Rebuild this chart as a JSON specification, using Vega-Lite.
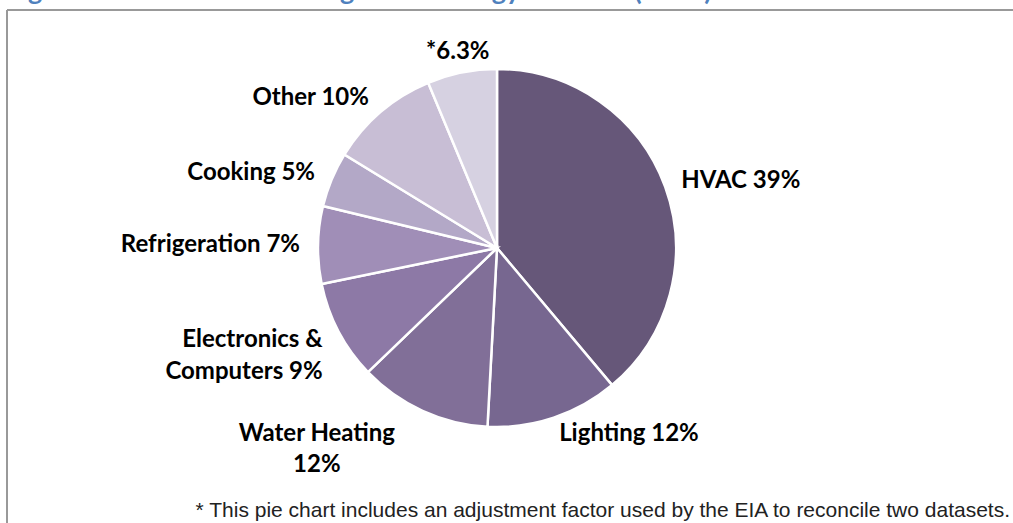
{
  "$schema": "https://vega.github.io/schema/vega-lite/v6.json",
  "autosize": {"type": "none"},
  "padding": {"left": 7, "top": 10, "right": 26, "bottom": 37},
  "width": 980,
  "height": 476,
  "background": "white",
  "config": {"view": {"stroke": null}},
  "title": {
    "text": "Figure 6: Residential Buildings Total Energy End-Use (2006)",
    "anchor": "start",
    "font": "Lato",
    "fontSize": 27,
    "fontWeight": "bold",
    "color": "#4F81BD",
    "offset": 3
  },
  "data": {
    "values": [
      {"idx": 1, "category": "HVAC", "value": 39, "label": "HVAC 39%"},
      {"idx": 2, "category": "Lighting", "value": 12, "label": "Lighting 12%"},
      {"idx": 3, "category": "Water Heating", "value": 12, "label": "Water Heating\n12%"},
      {"idx": 4, "category": "Electronics & Computers", "value": 9, "label": "Electronics &\nComputers 9%"},
      {"idx": 5, "category": "Refrigeration", "value": 7, "label": "Refrigeration 7%"},
      {"idx": 6, "category": "Cooking", "value": 5, "label": "Cooking 5%"},
      {"idx": 7, "category": "Other", "value": 10, "label": "Other 10%"},
      {"idx": 8, "category": "Adjustment", "value": 6.3, "label": "*6.3%"}
    ]
  },
  "layer": [
    {
      "mark": {"type": "arc", "outerRadius": 179, "stroke": "white", "strokeWidth": 2.5},
      "encoding": {
        "theta": {"field": "value", "type": "quantitative", "stack": true},
        "order": {"field": "idx", "type": "quantitative"},
        "color": {
          "field": "category",
          "type": "nominal",
          "scale": {
            "domain": ["HVAC", "Lighting", "Water Heating", "Electronics & Computers", "Refrigeration", "Cooking", "Other", "Adjustment"],
            "range": ["#665779", "#776790", "#816F98", "#8D79A6", "#A08EB7", "#B3A8C7", "#C8BED5", "#D6D1E1"]
          },
          "legend": null
        }
      }
    },
    {
      "mark": {"type": "text", "radius": 196, "align": "left", "baseline": "middle", "font": "Lato", "fontSize": 24, "fontWeight": "bold", "color": "#000000", "lineBreak": "\n"},
      "encoding": {
        "theta": {"field": "value", "type": "quantitative", "stack": true},
        "order": {"field": "idx", "type": "quantitative"},
        "text": {"condition": {"test": "indexof(['HVAC','Lighting'], datum.category) >= 0", "field": "label"}, "value": ""}
      }
    },
    {
      "mark": {"type": "text", "radius": 197, "align": "right", "baseline": "middle", "font": "Lato", "fontSize": 24, "fontWeight": "bold", "color": "#000000", "lineBreak": "\n", "lineHeight": 32},
      "encoding": {
        "theta": {"field": "value", "type": "quantitative", "stack": true},
        "order": {"field": "idx", "type": "quantitative"},
        "text": {"condition": {"test": "indexof(['Electronics & Computers','Refrigeration','Cooking','Other'], datum.category) >= 0", "field": "label"}, "value": ""}
      }
    },
    {
      "mark": {"type": "text", "radius": 200, "align": "center", "baseline": "middle", "font": "Lato", "fontSize": 24, "fontWeight": "bold", "color": "#000000"},
      "encoding": {
        "theta": {"field": "value", "type": "quantitative", "stack": true},
        "order": {"field": "idx", "type": "quantitative"},
        "text": {"condition": {"test": "datum.category == 'Adjustment'", "field": "label"}, "value": ""}
      }
    },
    {
      "mark": {"type": "text", "radius": 195, "align": "center", "baseline": "middle", "font": "Lato", "fontSize": 24, "fontWeight": "bold", "color": "#000000", "lineBreak": "\n", "lineHeight": 31, "dx": -99, "dy": 9},
      "encoding": {
        "theta": {"field": "value", "type": "quantitative", "stack": true},
        "order": {"field": "idx", "type": "quantitative"},
        "text": {"condition": {"test": "datum.category == 'Water Heating'", "field": "label"}, "value": ""}
      }
    },
    {
      "data": {"values": [{}]},
      "mark": {"type": "rule", "color": "#999999", "strokeWidth": 2},
      "encoding": {
        "x": {"datum": 0, "type": "quantitative", "scale": {"domain": [0, 1], "nice": false}, "axis": null},
        "y": {"datum": 1, "type": "quantitative", "scale": {"domain": [0, 1], "nice": false}, "axis": null},
        "y2": {"datum": -0.09}
      }
    },
    {
      "data": {"values": [{}]},
      "mark": {"type": "rule", "color": "#999999", "strokeWidth": 2},
      "encoding": {
        "x": {"datum": 0, "type": "quantitative"},
        "x2": {"datum": 1.04},
        "y": {"datum": 1, "type": "quantitative"}
      }
    },
    {
      "data": {"values": [{}]},
      "mark": {"type": "text", "align": "right", "baseline": "middle", "font": "Liberation Sans", "fontSize": 21, "color": "#222222", "dx": 23, "dy": 25},
      "encoding": {
        "x": {"datum": 1, "type": "quantitative"},
        "y": {"datum": 0, "type": "quantitative"},
        "text": {"value": "* This pie chart includes an adjustment factor used by the EIA to reconcile two datasets."}
      }
    }
  ]
}
